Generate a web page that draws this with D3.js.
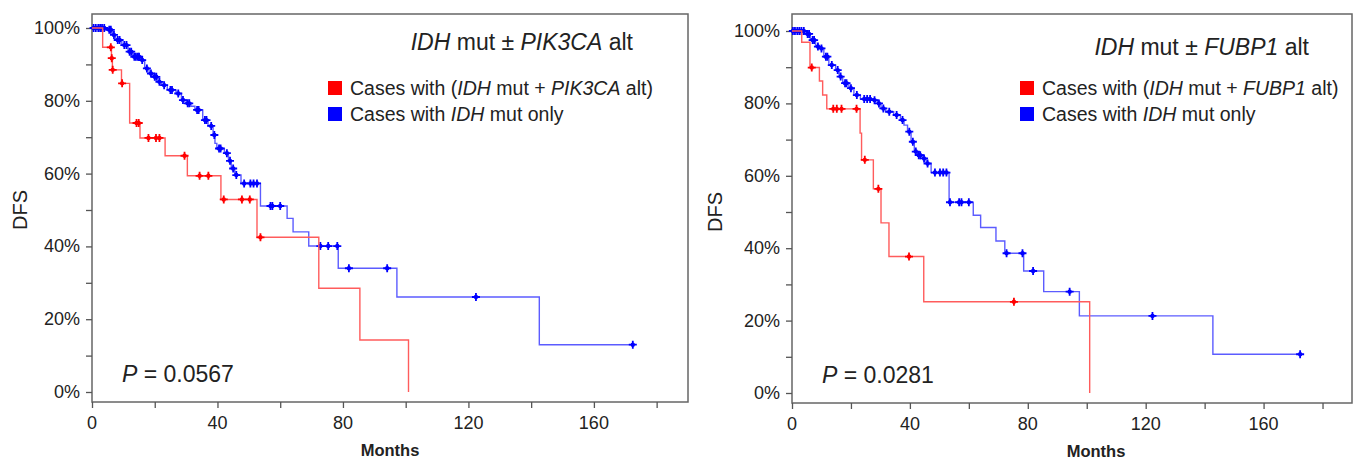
<!DOCTYPE html>
<html>
<head>
<meta charset="utf-8">
<script src="https://cdn.jsdelivr.net/npm/d3@7"></script>
<style>
    body { margin: 0; background: #fff; }
    svg text { font-family: "Liberation Sans", Arial, sans-serif; fill: #222; }
</style>
</head>
<body>
<div id="chart"></div>
<script>
// survival steps: [month of drop, survival after drop]
var pik3caAltSteps = [[0, 1], [3.4, 0.947], [6.2, 0.917], [6.5, 0.885], [9.4, 0.848], [12, 0.739], [15.3, 0.698],
    [23.3, 0.649], [30.4, 0.594], [41.1, 0.529], [52.6, 0.425], [72.3, 0.285], [85.4, 0.143], [100.9, 0]];
var pik3caAltCensor = [6.0, 6.3, 6.6, 9.6, 14.2, 14.9, 18, 20.4, 21.5, 29.5, 34.3, 37.1, 42, 47.8, 50.3, 53.7];

var idhOnlyLeftSteps = [[0, 1], [4.8, 0.995], [6.5, 0.981], [7.5, 0.967], [9.5, 0.953], [11.5, 0.935], [13, 0.921],
    [15.5, 0.912], [16.8, 0.889], [18.2, 0.875], [19.4, 0.866], [21, 0.852], [22.2, 0.843], [24, 0.83], [26.8, 0.82],
    [28.5, 0.802], [30, 0.793], [31.5, 0.785], [32.8, 0.775], [35.3, 0.747], [37, 0.731], [38.6, 0.706], [39.2, 0.683],
    [39.8, 0.669], [42.2, 0.656], [43.5, 0.635], [44.4, 0.614], [45.5, 0.596], [47.5, 0.573], [53.7, 0.511],
    [62.2, 0.477], [64.1, 0.44], [69.1, 0.401], [78.5, 0.34], [97.2, 0.261], [142.6, 0.13]];
var idhOnlyLeftCensor = [0.5, 1.2, 2, 2.6, 3.2, 3.9, 5.5, 6, 7, 8.2, 8.8, 10.3, 11, 12, 12.5, 13.5, 14, 14.6, 15, 16,
    17.5, 18.8, 20, 20.5, 21.5, 23, 25, 25.5, 27.5, 29, 30.5, 31, 33.5, 34, 36, 36.5, 38, 39, 40.5, 41, 43, 44, 45, 46,
    48.5, 50.5, 51.5, 52.6, 56.9, 57.5, 60, 72.8, 75.3, 78.2, 81.9, 94.1, 122.4, 172.4];

var fubp1AltSteps = [[0, 1], [3.3, 0.969], [6.1, 0.899], [9.3, 0.862], [10.4, 0.823], [11.8, 0.785], [23.1, 0.718],
    [23.6, 0.644], [27.6, 0.564], [30.2, 0.47], [32.9, 0.377], [44.7, 0.252], [101, 0]];
var fubp1AltCensor = [6.7, 14, 15.2, 16.8, 21.9, 24.7, 29.3, 39.7, 75.3];

var idhOnlyRightSteps = [[0, 1], [4.8, 0.992], [6.2, 0.975], [8, 0.957], [9.3, 0.952], [10.8, 0.929], [12.5, 0.906],
    [14.8, 0.892], [16, 0.874], [17.2, 0.856], [19.3, 0.842], [21, 0.823], [23.2, 0.812], [27.2, 0.809], [29, 0.8],
    [30.2, 0.786], [31.8, 0.777], [34.5, 0.768], [36.8, 0.754], [38, 0.74], [39.2, 0.722], [40.4, 0.694],
    [41.5, 0.667], [42.6, 0.657], [44.2, 0.648], [45.5, 0.634], [47.2, 0.609], [53.3, 0.527], [61.5, 0.491],
    [64, 0.457], [69.2, 0.42], [72.2, 0.386], [78.6, 0.337], [85.4, 0.28], [97.5, 0.213], [142.8, 0.107]];
var idhOnlyRightCensor = [0.3, 1, 1.8, 2.5, 3.2, 4, 5.3, 5.8, 7, 7.5, 8.8, 10, 11.5, 12, 13.5, 15.5, 16.5, 18, 18.5,
    20, 22, 24.5, 25.5, 26.5, 28, 29.5, 31, 33, 35.5, 37.5, 39.8, 41, 42, 43, 43.5, 44.8, 46, 48.5, 50.2, 51.3, 52.4,
    53.6, 56.7, 57.5, 60, 72.8, 78.2, 81.8, 94.2, 122.3, 172.4];

var xTicks = [0, 40, 80, 120, 160];
var yTicks = [0, 0.2, 0.4, 0.6, 0.8, 1];
var pValues = ["0.0567", "0.0281"];
var geneNames = ["PIK3CA", "FUBP1"];

var width = 1369, height = 465;

var panels = [
    { x0: 92, x1: 688, yTop: 28, yZero: 392, gene: geneNames[0], p: pValues[0],
      red: pik3caAltSteps, redC: pik3caAltCensor, blue: idhOnlyLeftSteps, blueC: idhOnlyLeftCensor,
      titleX: 633, titleY: 50, legendX: 328, pX: 122, dfsX: 27, monthsX: 390 },
    { x0: 792, x1: 1352, yTop: 31, yZero: 393, gene: geneNames[1], p: pValues[1],
      red: fubp1AltSteps, redC: fubp1AltCensor, blue: idhOnlyRightSteps, blueC: idhOnlyRightCensor,
      titleX: 1309, titleY: 55, legendX: 1020, pX: 822, dfsX: 722, monthsX: 1096 }
];

var svg = d3.select("#chart").append("svg").attr("width", width).attr("height", height);

function survAt(steps, t) {
    var s = steps[0][1];
    for (var i = 0; i < steps.length; i++) {
        if (steps[i][0] <= t) s = steps[i][1];
    }
    return s;
}

panels.forEach(function(p) {
    var x = d3.scaleLinear().domain([0, 190]).range([p.x0, p.x1]);
    var y = d3.scaleLinear().domain([0, 1]).range([p.yZero, p.yTop]);
    var yBottom = p.yZero + 10, yTopFrame = 14;

    var g = svg.append("g");

    // frame
    g.append("rect").attr("x", p.x0).attr("y", yTopFrame).attr("width", p.x1 - p.x0).attr("height", yBottom - yTopFrame)
        .attr("fill", "none").attr("stroke", "#666").attr("stroke-width", 1.5);

    // y axis
    var yAxis = d3.axisLeft(y).tickValues(d3.range(0, 1.01, 0.1)).tickSize(6).tickFormat("");
    var ya = g.append("g").attr("transform", "translate(" + p.x0 + ",0)").call(yAxis);
    ya.select(".domain").remove();
    ya.selectAll("line").attr("stroke", "#555").attr("stroke-width", 1.3);
    g.selectAll(".ylab").data(yTicks).enter().append("text")
        .attr("x", p.x0 - 12).attr("y", function(d) { return y(d) + 6; })
        .attr("text-anchor", "end").style("font-size", "18px")
        .text(function(d) { return Math.round(d * 100) + "%"; });

    // x axis
    var xAxis = d3.axisBottom(x).tickValues(d3.range(0, 181, 20)).tickSize(6).tickFormat("");
    var xa = g.append("g").attr("transform", "translate(0," + yBottom + ")").call(xAxis);
    xa.select(".domain").remove();
    xa.selectAll("line").attr("stroke", "#555").attr("stroke-width", 1.3);
    g.selectAll(".xlab").data(xTicks).enter().append("text")
        .attr("x", function(d) { return x(d); }).attr("y", yBottom + 27)
        .attr("text-anchor", "middle").style("font-size", "18px")
        .text(function(d) { return d; });

    g.append("text").attr("x", p.monthsX).attr("y", yBottom + 54).attr("text-anchor", "middle")
        .style("font-size", "16.5px").style("font-weight", "bold").text("Months");

    g.append("text").attr("transform", "translate(" + p.dfsX + "," + ((p.yZero + p.yTop) / 2) + ") rotate(-90)")
        .attr("text-anchor", "middle").style("font-size", "20px").text("DFS");

    var line = d3.line().x(function(d) { return x(d[0]); }).y(function(d) { return y(d[1]); }).curve(d3.curveStepAfter);

    function drawCurve(steps, censor, lineColor, markColor) {
        var last = steps[steps.length - 1];
        var tMax = Math.max(last[0], d3.max(censor));
        var pts = steps.slice();
        if (tMax > last[0]) pts.push([tMax, last[1]]);
        g.append("path").datum(pts).attr("d", line).attr("fill", "none")
            .attr("stroke", lineColor).attr("stroke-width", 1.4);
        var marks = g.selectAll(null).data(censor).enter().append("g")
            .attr("transform", function(d) { return "translate(" + x(d) + "," + y(survAt(steps, d)) + ")"; });
        marks.append("path").attr("d", "M-4,0H4M0,-4V4").attr("stroke", markColor).attr("stroke-width", 1.8);
        marks.append("circle").attr("r", 2.2).attr("fill", markColor);
    }

    drawCurve(p.blue, p.blueC, "#5c5cff", "#0000ff");
    drawCurve(p.red, p.redC, "#ff5c5c", "#ff0000");

    // title
    var t = g.append("text").attr("x", p.titleX).attr("y", p.titleY).attr("text-anchor", "end").style("font-size", "23px");
    t.append("tspan").style("font-style", "italic").text("IDH");
    t.append("tspan").text(" mut \u00b1 ");
    t.append("tspan").style("font-style", "italic").text(p.gene);
    t.append("tspan").text(" alt");

    // legend
    var ly = [88, 114];
    g.append("rect").attr("x", p.legendX).attr("y", ly[0] - 7).attr("width", 14).attr("height", 14).attr("fill", "#ff0000");
    g.append("rect").attr("x", p.legendX).attr("y", ly[1] - 7).attr("width", 14).attr("height", 14).attr("fill", "#0000ff");
    var l1 = g.append("text").attr("x", p.legendX + 22).attr("y", ly[0] + 7).style("font-size", "19.5px");
    l1.append("tspan").text("Cases with (");
    l1.append("tspan").style("font-style", "italic").text("IDH");
    l1.append("tspan").text(" mut + ");
    l1.append("tspan").style("font-style", "italic").text(p.gene);
    l1.append("tspan").text(" alt)");
    var l2 = g.append("text").attr("x", p.legendX + 22).attr("y", ly[1] + 7).style("font-size", "19.5px");
    l2.append("tspan").text("Cases with ");
    l2.append("tspan").style("font-style", "italic").text("IDH");
    l2.append("tspan").text(" mut only");

    // p value
    var pt = g.append("text").attr("x", p.pX).attr("y", p.yZero - 10).style("font-size", "23px");
    pt.append("tspan").style("font-style", "italic").text("P");
    pt.append("tspan").text(" = " + p.p);
});
</script>
</body>
</html>
